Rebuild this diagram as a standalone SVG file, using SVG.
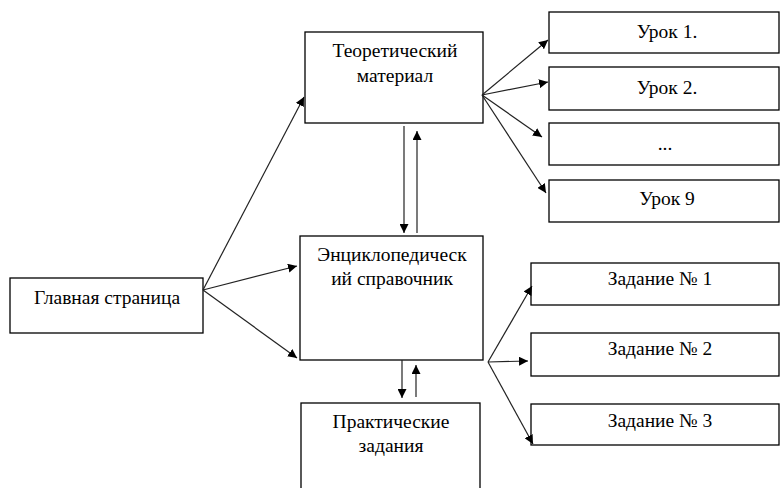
<svg xmlns="http://www.w3.org/2000/svg" width="782" height="488" viewBox="0 0 782 488">
<style>
.box{fill:#fff;stroke:#000;stroke-width:1.3}
.t{font-family:'Liberation Serif','DejaVu Serif',serif;font-size:19.5px;fill:#000;text-anchor:middle}
.c{stroke:#222;stroke-width:1.2;fill:none;marker-end:url(#ah)}
</style>
<defs>
<marker id="ah" viewBox="0 0 10 10" refX="10" refY="5" markerWidth="9" markerHeight="9" markerUnits="userSpaceOnUse" orient="auto">
<path d="M0,0 L10,5 L0,10 z" fill="#000"/>
</marker>
</defs>
<rect width="782" height="488" fill="#fff"/>
<g id="main"><rect class="box" x="10" y="278" width="193" height="55"/><text class="t" x="107" y="304">Главная страница</text></g>
<g id="theory"><rect class="box" x="305" y="32" width="178" height="91"/><text class="t" x="395" y="57">Теоретический</text><text class="t" x="395" y="82">материал</text></g>
<g id="encyc"><rect class="box" x="300" y="236" width="183" height="124"/><text class="t" x="392" y="261">Энциклопедическ</text><text class="t" x="392" y="285">ий справочник</text></g>
<g id="practice"><rect class="box" x="301" y="403" width="179" height="90"/><text class="t" x="391" y="428">Практические</text><text class="t" x="391" y="452">задания</text></g>
<g id="lesson1"><rect class="box" x="549" y="12" width="230" height="41"/><text class="t" x="667" y="38">Урок 1.</text></g>
<g id="lesson2"><rect class="box" x="549" y="67" width="230" height="43"/><text class="t" x="667" y="94">Урок 2.</text></g>
<g id="lessonDots"><rect class="box" x="549" y="123" width="230" height="42"/><text class="t" x="665" y="150">...</text></g>
<g id="lesson9"><rect class="box" x="549" y="180" width="230" height="42"/><text class="t" x="667" y="205">Урок 9</text></g>
<g id="task1"><rect class="box" x="531" y="263" width="248" height="42"/><text class="t" x="660" y="285">Задание № 1</text></g>
<g id="task2"><rect class="box" x="531" y="333" width="248" height="43"/><text class="t" x="660" y="355">Задание № 2</text></g>
<g id="task3"><rect class="box" x="531" y="404" width="248" height="41"/><text class="t" x="660" y="427">Задание № 3</text></g>
<g id="connectors">
<line class="c" x1="203" y1="290" x2="304" y2="97"/>
<line class="c" x1="203" y1="290" x2="297" y2="266"/>
<line class="c" x1="203" y1="290" x2="297" y2="358"/>
<line class="c" x1="404" y1="126" x2="404" y2="233"/>
<line class="c" x1="417" y1="233" x2="417" y2="131"/>
<line class="c" x1="402" y1="360" x2="402" y2="398"/>
<line class="c" x1="416" y1="397" x2="416" y2="365"/>
<line class="c" x1="482" y1="95" x2="548" y2="40"/>
<line class="c" x1="482" y1="95" x2="548" y2="82"/>
<line class="c" x1="482" y1="95" x2="542" y2="137"/>
<line class="c" x1="482" y1="95" x2="546" y2="193"/>
<line class="c" x1="488" y1="362" x2="532" y2="286"/>
<line class="c" x1="488" y1="362" x2="528" y2="361"/>
<line class="c" x1="488" y1="362" x2="533" y2="444"/>
</g>
</svg>
